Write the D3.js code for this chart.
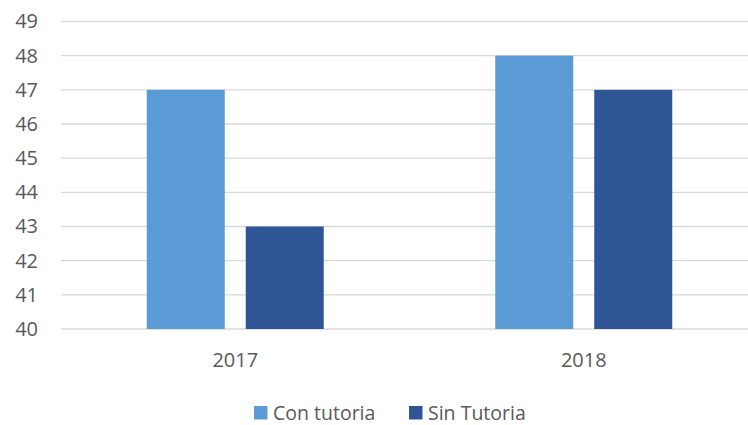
<!DOCTYPE html>
<html lang="es">
  <head>
    <meta charset="UTF-8" />
    <title>Tutoria</title>
    <style>
      body { margin: 0; background: #fff; }
      text { font-family: "Open Sans", Lato, sans-serif; fill: #595959; }
    </style>
  </head>
  <body>
    <svg id="svg" width="748" height="425"></svg>

    <script src="https://d3js.org/d3.v7.min.js"></script>
    <script>
      const years = ["2017", "2018"];
      const seriesNames = ["Con tutoria", "Sin Tutoria"];
      const conTutoria = [47, 48];
      const sinTutoria = [43, 47];
      const yTicks = [40, 41, 42, 43, 44, 45, 46, 47, 48, 49];

      const colors = { "Con tutoria": "#5B9BD5", "Sin Tutoria": "#2F5597" };
      const fontSize = 20;

      const rows = years.map((y, i) => ({
        year: y,
        values: [
          { name: seriesNames[0], value: conTutoria[i] },
          { name: seriesNames[1], value: sinTutoria[i] },
        ],
      }));

      const svg = d3.select("#svg");

      // plot area (right side runs a bit past the window, like the original)
      const x0 = d3.scaleBand().domain(years).range([61, 758]);
      const groupW = 177;
      const x1 = d3
        .scaleBand()
        .domain(seriesNames)
        .range([0, groupW])
        .paddingInner(0.212);

      const y = d3.scaleLinear().domain([40, 49]).range([329, 21.5]);

      // gridlines
      svg
        .append("g")
        .selectAll("line")
        .data(yTicks)
        .enter()
        .append("line")
        .attr("x1", 61)
        .attr("x2", 748)
        .attr("y1", (d) => y(d))
        .attr("y2", (d) => y(d))
        .attr("stroke", "#D9D9D9")
        .attr("stroke-width", 1.4);

      // y axis labels
      const yAxis = d3.axisLeft(y).tickValues(yTicks).tickSize(0).tickPadding(0);
      svg
        .append("g")
        .attr("transform", "translate(38,0)")
        .call(yAxis)
        .call((g) => g.select(".domain").remove())
        .selectAll("text")
        .attr("font-size", fontSize)
        .attr("font-family", "'Open Sans', Lato, sans-serif")
        .attr("fill", "#595959");

      // bars
      const groups = svg
        .append("g")
        .selectAll("g")
        .data(rows)
        .enter()
        .append("g")
        .attr(
          "transform",
          (d) => `translate(${x0(d.year) + (x0.bandwidth() - groupW) / 2},0)`
        );

      groups
        .selectAll("rect")
        .data((d) => d.values)
        .enter()
        .append("rect")
        .attr("x", (d) => x1(d.name))
        .attr("width", x1.bandwidth())
        .attr("y", (d) => y(d.value))
        .attr("height", (d) => y(40) - y(d.value))
        .attr("fill", (d) => colors[d.name]);

      // x axis labels
      const xAxis = d3.axisBottom(x0).tickSize(0).tickPadding(0);
      svg
        .append("g")
        .attr("transform", "translate(0,352.5)")
        .call(xAxis)
        .call((g) => g.select(".domain").remove())
        .selectAll("text")
        .attr("dy", "0.71em")
        .attr("font-size", fontSize)
        .attr("font-family", "'Open Sans', Lato, sans-serif")
        .attr("fill", "#595959");

      // legend
      const legendX = [254, 409];
      const legend = svg
        .append("g")
        .selectAll("g")
        .data(seriesNames)
        .enter()
        .append("g")
        .attr("transform", (d, i) => `translate(${legendX[i]},406)`);

      legend
        .append("rect")
        .attr("width", 13.5)
        .attr("height", 13.5)
        .attr("fill", (d) => colors[d]);

      legend
        .append("text")
        .attr("x", 19)
        .attr("y", 13.5)
        .attr("font-size", 19.5)
        .text((d) => d);
    </script>
  </body>
</html>
